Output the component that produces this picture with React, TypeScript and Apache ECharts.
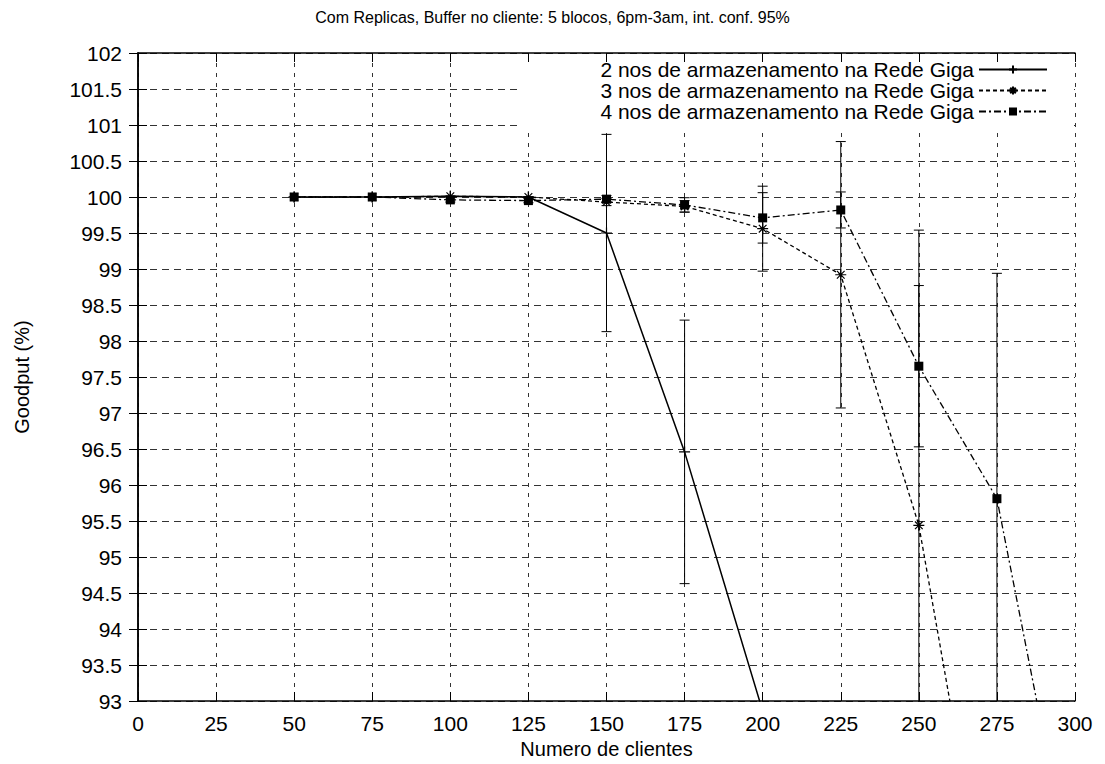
import React, { useEffect, useRef } from "react";
import * as echarts from "echarts";

const titleText = "Com Replicas, Buffer no cliente: 5 blocos, 6pm-3am, int. conf. 95%";
const xName = "Numero de clientes";
const yName = "Goodput (%)";

const clients = [50, 75, 100, 125, 150, 175, 200, 225, 250, 275, 300];

const seriesNames = [
  "2 nos de armazenamento na Rede Giga",
  "3 nos de armazenamento na Rede Giga",
  "4 nos de armazenamento na Rede Giga",
];

const goodput2 = [100, 100, 100.01, 100.0, 99.5, 96.46, 92.86, null, null, null, null];
const error2 = [0, 0, 0.01, 0.01, 1.37, 1.83, 0, null, null, null, null];

const goodput3 = [100, 100, 100.01, 100.0, 99.93, 99.87, 99.56, 98.92, 95.44, 89.3, null];
const error3 = [0, 0, 0.02, 0.02, 0.05, 0.08, 0.59, 1.85, 4.1, 0, null];

const goodput4 = [100, 100, 99.96, 99.95, 99.97, 99.89, 99.71, 99.82, 97.65, 95.81, 90.3];
const error4 = [0, 0, 0.03, 0.03, 0.05, 0.1, 0.35, 0.25, 1.12, 3.13, 0];

const Y_MIN = 93;
const Y_MAX = 102;

const FONT = "'Liberation Sans', Arial, Helvetica, sans-serif";

const plusSymbol = "path://M5,0 L5,10 M0,5 L10,5";
const starSymbol = "path://M5,0 L5,10 M0,5 L10,5 M1.5,1.5 L8.5,8.5 M1.5,8.5 L8.5,1.5";

function lineData(vals: (number | null)[]) {
  return clients.map((c, i) => [c, vals[i]]);
}

function errData(vals: (number | null)[], errs: (number | null)[]) {
  const out: number[][] = [];
  clients.forEach((c, i) => {
    const v = vals[i];
    const e = errs[i];
    if (v == null || e == null) return;
    out.push([c, v - e, v + e]);
  });
  return out;
}

function renderErr(params: any, api: any) {
  const x = api.value(0);
  const lo = api.value(1);
  const hi = api.value(2);
  if (hi - lo < 0.05) return null;
  if (hi < Y_MIN || lo > Y_MAX) return null;
  const loC = Math.max(lo, Y_MIN);
  const hiC = Math.min(hi, Y_MAX);
  const pLo = api.coord([x, loC]);
  const pHi = api.coord([x, hiC]);
  const style = { stroke: "#000", lineWidth: 1 };
  const children: any[] = [
    { type: "line", shape: { x1: pLo[0], y1: pLo[1], x2: pHi[0], y2: pHi[1] }, style },
  ];
  const cw = 5;
  if (hi <= Y_MAX) {
    children.push({ type: "line", shape: { x1: pHi[0] - cw, y1: pHi[1], x2: pHi[0] + cw, y2: pHi[1] }, style });
  }
  if (lo >= Y_MIN) {
    children.push({ type: "line", shape: { x1: pLo[0] - cw, y1: pLo[1], x2: pLo[0] + cw, y2: pLo[1] }, style });
  }
  return { type: "group", children };
}

export default function App() {
  const ref = useRef<HTMLDivElement>(null);

  useEffect(() => {
    if (!ref.current) return;
    const chart = echarts.init(ref.current, undefined, { renderer: "svg" });

    const gridLeft = 138;
    const gridTop = 53;
    const gridRight = 30;
    const gridBottom = 63;

    const option: any = {
      animation: false,
      backgroundColor: "#fff",
      textStyle: { fontFamily: FONT, color: "#000" },
      title: {
        text: titleText,
        left: "center",
        top: 4,
        textStyle: { fontFamily: FONT, fontSize: 16, fontWeight: "normal", color: "#000" },
      },
      legend: {
        data: seriesNames,
        orient: "vertical",
        right: 57,
        top: 59,
        align: "right",
        itemWidth: 68,
        itemHeight: 10,
        itemGap: 0,
        padding: 0,
        textStyle: { fontFamily: FONT, fontSize: 21, color: "#000" },
      },
      grid: { left: gridLeft, top: gridTop, right: gridRight, bottom: gridBottom, containLabel: false },
      graphic: [
        {
          type: "rect",
          z: 1,
          shape: { x: 520, y: 55, width: 553, height: 73 },
          style: { fill: "#fff" },
          silent: true,
        },
      ],
      xAxis: [
        {
          type: "value",
          min: 0,
          max: 300,
          interval: 25,
          name: xName,
          nameLocation: "middle",
          nameGap: 30,
          nameTextStyle: { fontFamily: FONT, fontSize: 20, color: "#000" },
          axisLine: { lineStyle: { color: "#000", width: 1.5 } },
          axisTick: { inside: true, length: 9, lineStyle: { color: "#000", width: 1 } },
          axisLabel: { margin: 12, fontFamily: FONT, fontSize: 21, color: "#000" },
          splitLine: { show: true, lineStyle: { color: "#333", width: 1, type: [4, 6] } },
        },
        {
          type: "value",
          position: "top",
          min: 0,
          max: 300,
          interval: 25,
          z: 5,
          axisLine: { show: true, lineStyle: { color: "#000", width: 1.5 } },
          axisTick: { show: true, inside: true, length: 9, lineStyle: { color: "#000", width: 1 } },
          axisLabel: { show: false },
          splitLine: { show: false },
        },
      ],
      yAxis: [
        {
          type: "value",
          min: Y_MIN,
          max: Y_MAX,
          interval: 0.5,
          name: yName,
          nameLocation: "middle",
          nameGap: 106,
          nameTextStyle: { fontFamily: FONT, fontSize: 20, color: "#000" },
          axisLine: { show: true, lineStyle: { color: "#000", width: 1.5 } },
          axisTick: { show: true, inside: true, length: 9, lineStyle: { color: "#000", width: 1 } },
          axisLabel: { margin: 16, fontFamily: FONT, fontSize: 21, color: "#000" },
          splitLine: { show: true, lineStyle: { color: "#333", width: 1, type: [7, 5] } },
        },
        {
          type: "value",
          position: "right",
          min: Y_MIN,
          max: Y_MAX,
          interval: 0.5,
          z: 5,
          axisLine: { show: true, lineStyle: { color: "#000", width: 1.5 } },
          axisTick: { show: true, inside: true, length: 9, lineStyle: { color: "#000", width: 1 } },
          axisLabel: { show: false },
          splitLine: { show: false },
        },
      ],
      series: [
        {
          name: seriesNames[0],
          type: "line",
          data: lineData(goodput2),
          symbol: plusSymbol,
          symbolSize: 11,
          showAllSymbol: true,
          itemStyle: { color: "#000", borderColor: "#000", borderWidth: 1.2 },
          lineStyle: { color: "#000", width: 1.5, type: "solid" },
          z: 4,
        },
        {
          name: seriesNames[1],
          type: "line",
          data: lineData(goodput3),
          symbol: starSymbol,
          symbolSize: 11,
          showAllSymbol: true,
          itemStyle: { color: "#000", borderColor: "#000", borderWidth: 1.2 },
          lineStyle: { color: "#000", width: 1.3, type: [4, 3] },
          z: 4,
        },
        {
          name: seriesNames[2],
          type: "line",
          data: lineData(goodput4),
          symbol: "rect",
          symbolSize: 9,
          showAllSymbol: true,
          itemStyle: { color: "#000", borderColor: "#000", borderWidth: 0 },
          lineStyle: { color: "#000", width: 1.3, type: [7, 3, 2, 3] },
          z: 4,
        },
        {
          name: "err2",
          type: "custom",
          renderItem: renderErr,
          data: errData(goodput2, error2),
          encode: { x: 0, y: [1, 2] },
          z: 3,
        },
        {
          name: "err3",
          type: "custom",
          renderItem: renderErr,
          data: errData(goodput3, error3),
          encode: { x: 0, y: [1, 2] },
          z: 3,
        },
        {
          name: "err4",
          type: "custom",
          renderItem: renderErr,
          data: errData(goodput4, error4),
          encode: { x: 0, y: [1, 2] },
          z: 3,
        },
      ],
    };

    chart.setOption(option);
    return () => {
      chart.dispose();
    };
  }, []);

  return (
    <div
      ref={ref}
      style={{ position: "absolute", left: 0, top: 0, width: 1105, height: 764, background: "#fff" }}
    />
  );
}
